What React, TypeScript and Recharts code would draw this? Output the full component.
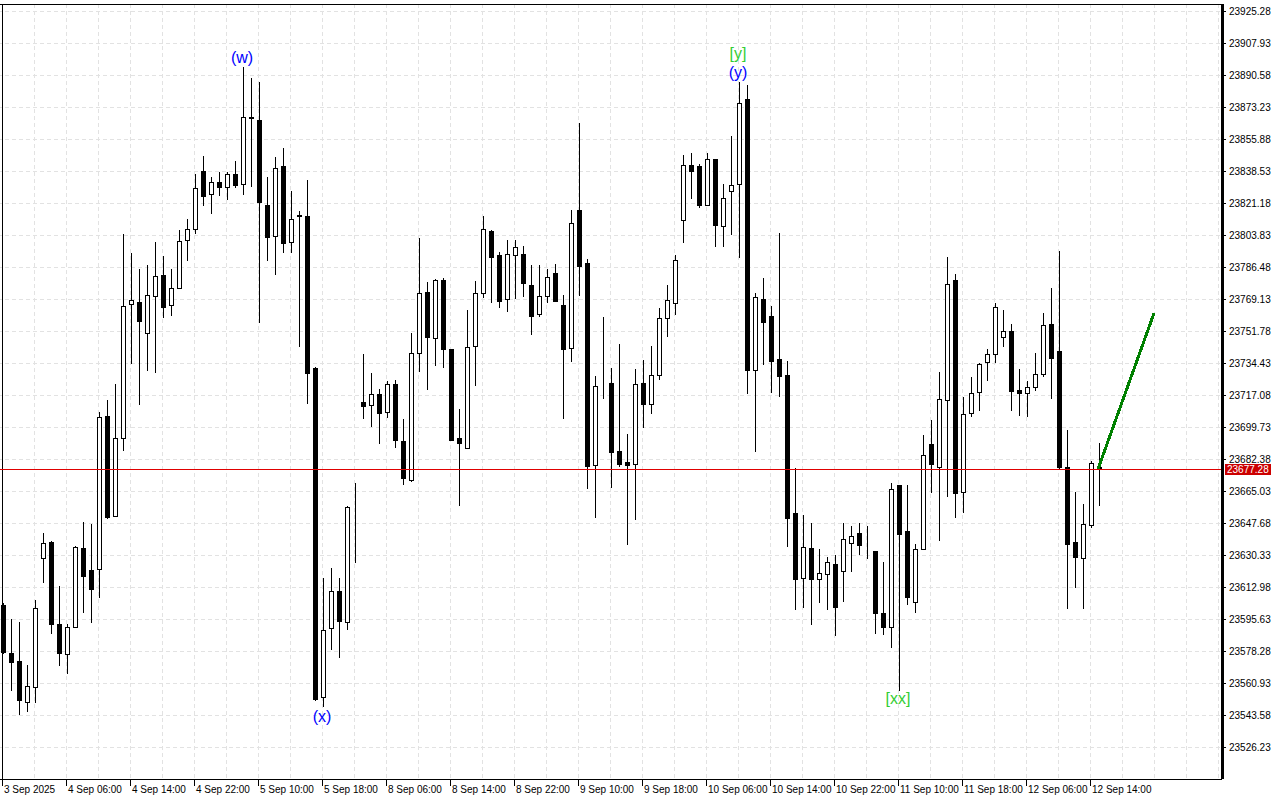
import React from "react";
import {
  ComposedChart,
  Bar,
  Line,
  XAxis,
  YAxis,
  CartesianGrid,
  ReferenceLine,
  ReferenceDot,
} from "recharts";

// hourly candles
const opens = [
  23603.6, 23577.4, 23573.2, 23551.2, 23558.9, 23628.9, 23638.0, 23593.3, 23576.8, 23591.5,
  23634.3, 23622.4, 23623.1, 23705.9, 23652.0, 23694.0, 23766.6, 23767.7, 23751.2, 23770.9,
  23782.3, 23766.1, 23775.6, 23801.3, 23807.3, 23839.0, 23826.7, 23832.8, 23830.2, 23837.4,
  23831.6, 23868.3, 23866.8, 23820.5, 23803.6, 23841.8, 23800.4, 23814.8, 23814.7, 23732.1,
  23553.5, 23591.2, 23611.1, 23594.5, 23655.9, 23713.8, 23711.8, 23717.8, 23708.0, 23723.2,
  23692.5, 23671.2, 23740.0, 23773.3, 23748.2, 23779.6, 23742.2, 23694.0, 23688.5, 23744.2,
  23772.6, 23806.4, 23793.4, 23769.3, 23793.2, 23793.9, 23777.1, 23761.2, 23770.9, 23783.4,
  23766.4, 23743.1, 23817.6, 23789.2, 23679.7, 23722.4, 23724.1, 23687.3, 23680.9, 23680.2,
  23724.1, 23712.7, 23728.1, 23759.4, 23767.3, 23812.5, 23842.3, 23841.4, 23820.6, 23845.2,
  23808.9, 23827.9, 23832.0, 23878.0, 23731.2, 23769.5, 23760.5, 23736.8, 23728.2, 23653.4,
  23618.4, 23634.5, 23617.7, 23620.2, 23625.7, 23622.1, 23637.4, 23642.7, 23633.6, 23632.7,
  23599.4, 23591.6, 23668.4, 23643.8, 23605.3, 23634.1, 23690.9, 23678.6, 23714.6, 23779.6,
  23664.7, 23707.5, 23718.9, 23735.2, 23739.7, 23748.7, 23752.1, 23720.2, 23718.3, 23721.6,
  23728.7, 23755.8, 23741.3, 23678.2, 23637.9, 23628.9, 23646.8, 23678.6,
];
const highs = [
  23604.5, 23596.0, 23594.2, 23571.1, 23606.3, 23642.4, 23638.3, 23613.9, 23593.1, 23635.6,
  23648.4, 23647.5, 23708.0, 23714.6, 23723.4, 23804.7, 23794.6, 23785.6, 23787.9, 23800.2,
  23792.8, 23785.6, 23806.9, 23813.1, 23837.4, 23847.1, 23835.5, 23838.3, 23838.3, 23844.3,
  23895.2, 23889.4, 23887.1, 23835.8, 23846.6, 23851.3, 23828.1, 23817.0, 23833.9, 23732.6,
  23618.3, 23623.4, 23618.3, 23657.4, 23669.7, 23739.5, 23729.3, 23720.5, 23725.0, 23725.6,
  23704.4, 23750.9, 23802.4, 23778.7, 23780.2, 23780.7, 23742.5, 23709.9, 23763.5, 23779.3,
  23814.5, 23806.9, 23795.2, 23801.5, 23801.5, 23798.2, 23787.9, 23787.9, 23785.6, 23788.5,
  23771.5, 23817.9, 23864.9, 23791.0, 23727.6, 23759.7, 23732.3, 23745.3, 23696.5, 23731.7,
  23736.6, 23743.8, 23764.6, 23776.9, 23793.5, 23847.4, 23848.8, 23842.9, 23848.8, 23845.5,
  23831.7, 23857.7, 23887.2, 23885.3, 23772.9, 23781.0, 23765.8, 23805.4, 23735.9, 23678.1,
  23652.2, 23647.8, 23633.9, 23629.7, 23630.8, 23647.8, 23646.3, 23647.8, 23646.3, 23632.8,
  23626.8, 23669.5, 23668.6, 23668.8, 23636.8, 23695.8, 23703.9, 23729.9, 23792.4, 23783.1,
  23716.2, 23727.0, 23734.6, 23742.4, 23767.1, 23763.5, 23755.9, 23731.5, 23725.0, 23740.0,
  23761.7, 23775.3, 23795.5, 23698.5, 23664.7, 23658.2, 23681.8, 23691.2,
];
const lows = [
  23577.0, 23557.1, 23543.9, 23545.8, 23550.3, 23615.7, 23587.9, 23570.5, 23566.2, 23591.2,
  23599.4, 23593.6, 23607.2, 23650.0, 23651.5, 23687.3, 23734.3, 23712.0, 23730.6, 23729.6,
  23759.4, 23760.5, 23775.3, 23790.3, 23805.0, 23820.0, 23815.4, 23825.1, 23823.0, 23829.5,
  23825.8, 23830.0, 23756.4, 23790.0, 23782.6, 23794.6, 23794.6, 23743.7, 23712.5, 23551.5,
  23548.2, 23579.4, 23574.8, 23589.9, 23626.4, 23704.4, 23700.2, 23690.7, 23705.2, 23688.9,
  23668.6, 23670.5, 23730.1, 23720.2, 23733.4, 23732.3, 23692.7, 23657.4, 23688.3, 23722.5,
  23770.2, 23767.1, 23764.8, 23762.6, 23769.5, 23770.8, 23750.0, 23759.6, 23767.1, 23768.2,
  23704.6, 23735.3, 23771.1, 23666.7, 23650.9, 23715.5, 23667.2, 23678.4, 23635.9, 23649.5,
  23699.7, 23707.3, 23725.4, 23748.9, 23760.6, 23799.9, 23823.5, 23818.8, 23819.9, 23797.7,
  23797.7, 23804.4, 23791.9, 23718.0, 23686.5, 23733.7, 23718.6, 23716.4, 23635.0, 23600.9,
  23601.8, 23592.5, 23604.7, 23600.9, 23586.7, 23605.1, 23621.3, 23630.8, 23628.8, 23587.8,
  23587.2, 23580.1, 23557.1, 23603.6, 23599.1, 23633.8, 23664.5, 23638.3, 23662.3, 23650.6,
  23653.6, 23705.7, 23709.0, 23725.2, 23734.6, 23743.7, 23709.0, 23706.2, 23705.7, 23719.8,
  23727.0, 23715.3, 23677.1, 23601.2, 23612.6, 23601.2, 23645.2, 23657.4,
];
const closes = [
  23578.3, 23572.9, 23552.1, 23559.7, 23601.8, 23637.0, 23593.3, 23577.7, 23591.5, 23634.9,
  23619.5, 23612.1, 23705.3, 23651.5, 23694.0, 23765.5, 23768.8, 23757.7, 23771.5, 23781.8,
  23765.3, 23775.3, 23800.8, 23807.3, 23829.7, 23825.6, 23833.2, 23830.4, 23837.1, 23831.1,
  23868.1, 23867.9, 23822.1, 23803.1, 23840.8, 23799.9, 23813.1, 23814.6, 23729.3, 23552.4,
  23590.3, 23611.4, 23594.9, 23656.9, 23655.7, 23711.5, 23718.0, 23707.5, 23723.2, 23692.9,
  23672.3, 23740.0, 23772.6, 23748.7, 23780.0, 23742.2, 23693.0, 23691.2, 23743.3, 23772.6,
  23807.3, 23792.4, 23768.6, 23793.9, 23797.5, 23778.4, 23760.5, 23770.9, 23781.2, 23768.6,
  23742.6, 23810.9, 23787.4, 23679.0, 23722.3, 23722.2, 23686.5, 23680.0, 23679.5, 23723.6,
  23712.7, 23728.5, 23759.4, 23769.1, 23790.8, 23842.3, 23838.9, 23820.3, 23845.2, 23809.8,
  23824.4, 23831.5, 23875.9, 23731.2, 23770.6, 23757.1, 23735.9, 23727.9, 23650.7, 23617.7,
  23635.0, 23617.9, 23620.8, 23626.8, 23602.5, 23639.6, 23641.2, 23636.3, 23633.3, 23599.4,
  23591.6, 23666.6, 23642.1, 23608.0, 23634.1, 23685.0, 23680.2, 23715.1, 23777.4, 23664.1,
  23707.0, 23718.3, 23734.4, 23739.5, 23765.0, 23752.0, 23719.8, 23718.7, 23721.6, 23728.7,
  23755.2, 23737.3, 23678.6, 23636.8, 23629.4, 23647.7, 23680.8, 23677.3,
];

// one label every 8 bars
const timeLabels = [
  "3 Sep 2025", "4 Sep 06:00", "4 Sep 14:00", "4 Sep 22:00", "5 Sep 10:00", "5 Sep 18:00",
  "8 Sep 06:00", "8 Sep 14:00", "8 Sep 22:00", "9 Sep 10:00", "9 Sep 18:00", "10 Sep 06:00",
  "10 Sep 14:00", "10 Sep 22:00", "11 Sep 10:00", "11 Sep 18:00", "12 Sep 06:00", "12 Sep 14:00",
];

const priceTicks = [
  23925.28, 23907.93, 23890.58, 23873.23, 23855.88, 23838.53, 23821.18, 23803.83,
  23786.48, 23769.13, 23751.78, 23734.43, 23717.08, 23699.73, 23682.38, 23665.03,
  23647.68, 23630.33, 23612.98, 23595.63, 23578.28, 23560.93, 23543.58, 23526.23,
];

const lastPrice = 23677.28;

// projected move (bar index, price)
const trendBars = [137, 144];
const trendPrices = [23677.28, 23761.8];

// wave marks
const waveMarks = [
  { bar: 30, price: 23895.2, text: "(w)", color: "#0000ff", above: true, offset: 4 },
  { bar: 40, price: 23548.2, text: "(x)", color: "#0000ff", above: false, offset: 3 },
  { bar: 92, price: 23887.2, text: "(y)", color: "#0000ff", above: true, offset: 4 },
  { bar: 92, price: 23887.2, text: "[y]", color: "#32cd32", above: true, offset: 23 },
  { bar: 112, price: 23557.1, text: "[xx]", color: "#32cd32", above: false, offset: 2 },
];

const SLOTS = 153;
const Y_MIN = 23509.25;
const Y_MAX = 23929.45;

const data = Array.from({ length: SLOTS }, (_, i) => {
  const t = trendBars.indexOf(i);
  return {
    i,
    open: opens[i],
    high: highs[i],
    low: lows[i],
    close: closes[i],
    range: i < opens.length ? [lows[i], highs[i]] : null,
    trend: t >= 0 ? trendPrices[t] : null,
  };
});

const gridBars = data.filter((d) => d.i % 4 === 0).map((d) => d.i);

const FONT = "'Liberation Sans', Arial, sans-serif";

function Candle(props: any) {
  const { x, y, width, height, payload } = props;
  if (!payload || payload.open == null) return null;
  const { open, close, high, low } = payload;
  const top = Math.min(y, y + height);
  const h = Math.abs(height);
  const k = h / (high - low);
  const py = (v: number) => top + (high - v) * k;
  const cx = Math.round(x + width / 2) + 0.5;
  const bTop = Math.round(py(Math.max(open, close)));
  const bBot = Math.round(py(Math.min(open, close)));
  const up = close > open;
  return (
    <g>
      <line x1={cx} x2={cx} y1={Math.round(top)} y2={Math.round(top + h)} stroke="#000" strokeWidth={1} />
      <rect
        x={cx - 2}
        y={bTop + 0.5}
        width={4}
        height={Math.max(bBot - bTop, 0)}
        fill={up ? "#fff" : "#000"}
        stroke="#000"
        strokeWidth={1}
      />
    </g>
  );
}

function TimeTick(props: any) {
  const { x, y, payload } = props;
  const idx = payload.value;
  if (idx % 8 !== 0) return null;
  const label = timeLabels[idx / 8];
  if (!label) return null;
  return (
    <g>
      <line x1={x} x2={x} y1={y} y2={y + 7} stroke="#000" />
      <text x={x + 2} y={y + 14} fontSize={10} fontFamily={FONT} fill="#000">
        {label}
      </text>
    </g>
  );
}

// price tag on the axis
function PriceTag(props: any) {
  const vb = props.viewBox;
  if (!vb) return null;
  const x = vb.x + vb.width + 3;
  const y = Math.round(vb.y);
  return (
    <g>
      <rect x={x} y={y - 5} width={46} height={11} fill="#cc0000" />
      <text x={x + 2} y={y + 4} fontSize={10} fontFamily={FONT} fill="#fff">
        {lastPrice.toFixed(2)}
      </text>
    </g>
  );
}

export default function App() {
  return (
    <div style={{ position: "absolute", left: 0, top: 0, width: 1280, height: 800, background: "#fff", shapeRendering: "crispEdges" }}>
      <ComposedChart width={1280} height={800} data={data} margin={{ top: 4, right: 0, bottom: 0, left: -2 }}>
        <CartesianGrid stroke="#e2e2e2" strokeDasharray="4 3" />
        <XAxis
          dataKey="i"
          type="category"
          ticks={gridBars}
          interval={0}
          height={21}
          tickSize={0}
          tickMargin={0}
          tickLine={false}
          axisLine={{ stroke: "#000" }}
          tick={<TimeTick />}
        />
        <YAxis
          orientation="right"
          width={58}
          domain={[Y_MIN, Y_MAX]}
          ticks={priceTicks}
          interval={0}
          allowDataOverflow
          axisLine={{ stroke: "#000", strokeWidth: 3 }}
          tickLine={{ stroke: "#000" }}
          tickSize={4}
          tickMargin={3}
          tick={{ fill: "#000", fontSize: 10, fontFamily: FONT }}
          tickFormatter={(v: number) => v.toFixed(2)}
        />
        <ReferenceLine y={Y_MAX} stroke="#000" />
        <ReferenceLine x={0} stroke="#000" />
        <ReferenceLine y={lastPrice} stroke="#e00000" strokeWidth={1} label={<PriceTag />} />
        <Bar dataKey="range" barSize={5} shape={<Candle />} isAnimationActive={false} />
        <Line
          dataKey="trend"
          stroke="#008000"
          strokeWidth={3}
          dot={false}
          connectNulls
          isAnimationActive={false}
        />
        {waveMarks.map((m) => (
          <ReferenceDot
            key={m.text}
            x={m.bar}
            y={m.price}
            r={0}
            fill="none"
            stroke="none"
            label={{
              value: m.text,
              position: m.above ? "top" : "bottom",
              offset: m.offset,
              fill: m.color,
              fontSize: 16,
              fontFamily: FONT,
            }}
          />
        ))}
      </ComposedChart>
    </div>
  );
}
